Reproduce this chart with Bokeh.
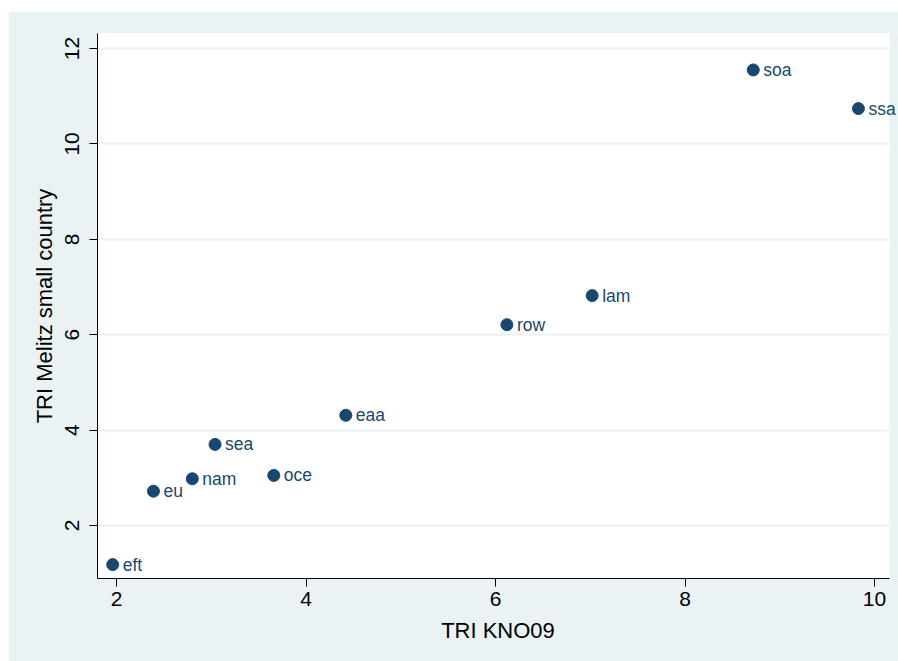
from bokeh.plotting import figure
from bokeh.models import ColumnDataSource, Range1d, FixedTicker, LabelSet, BoxAnnotation
from bokeh.core.properties import value
from bokeh.embed import file_html
from bokeh.resources import INLINE

# data
regions = ["soa", "ssa", "lam", "row", "eaa", "sea", "nam", "oce", "eu", "eft"]
tri_kno09 = [8.72, 9.83, 7.02, 6.12, 4.42, 3.04, 2.80, 3.66, 2.39, 1.96]
tri_melitz = [11.55, 10.74, 6.82, 6.21, 4.31, 3.70, 2.98, 3.05, 2.72, 1.18]
x_ticks = [2, 4, 6, 8, 10]
y_ticks = [2, 4, 6, 8, 10, 12]

BG = "#EAF2F3"
NAVY = "#1A476F"
FONT = "Liberation Sans"

X_MIN, X_MAX = 1.7995, 10.158   # extent of the white plot region
X_VIEW = 10.253                 # frame runs a little further so labels are not cut

src = ColumnDataSource(dict(x=tri_kno09, y=tri_melitz, lab=regions))

p = figure(width=890, height=650, margin=(11, 0, 0, 8),
           output_backend="svg", toolbar_location=None,
           x_range=Range1d(X_MIN, X_VIEW), y_range=Range1d(0.889, 12.314),
           min_border_left=89, min_border_right=0, min_border_top=22,
           min_border_bottom=83)
p.background_fill_color = "white"
p.border_fill_color = BG
p.outline_line_color = None

p.xgrid.visible = False
p.ygrid.grid_line_color = BG
p.ygrid.grid_line_width = 2
p.ygrid.ticker = FixedTicker(ticks=y_ticks)

# background strip right of the plot region
p.add_layout(BoxAnnotation(left=X_MAX, fill_color=BG, fill_alpha=1.0,
                           line_color=None, level="underlay"))

p.scatter("x", "y", source=src, size=12, fill_color=NAVY, line_color=NAVY)
labels = LabelSet(x="x", y="y", text="lab", source=src, x_offset=10,
                  text_baseline="middle", text_align="left", text_color=NAVY,
                  text_font=value(FONT), text_font_size="17.5px")
p.add_layout(labels)

for ax in (p.xaxis[0], p.yaxis[0]):
    ax.axis_line_color = "black"
    ax.axis_line_width = 1
    ax.major_tick_line_color = "black"
    ax.major_tick_out = 8
    ax.major_tick_in = 0
    ax.minor_tick_line_color = None
    ax.major_label_text_font = FONT
    ax.major_label_text_font_size = "21px"
    ax.major_label_text_color = "black"
    ax.axis_label_text_font = FONT
    ax.axis_label_text_font_size = "22px"
    ax.axis_label_text_font_style = "normal"
    ax.axis_label_text_color = "black"

p.xaxis.ticker = FixedTicker(ticks=x_ticks)
p.yaxis.ticker = FixedTicker(ticks=y_ticks)
p.xaxis.bounds = (X_MIN, X_MAX)
p.xaxis.axis_label = "TRI KNO09"
p.yaxis.axis_label = "TRI Melitz small country"
p.yaxis.major_label_orientation = "vertical"
p.xaxis.major_label_standoff = 5
p.yaxis.major_label_standoff = 10
p.xaxis.axis_label_standoff = 9
p.yaxis.axis_label_standoff = 6

open("out.html", "w").write(file_html(p, INLINE))
